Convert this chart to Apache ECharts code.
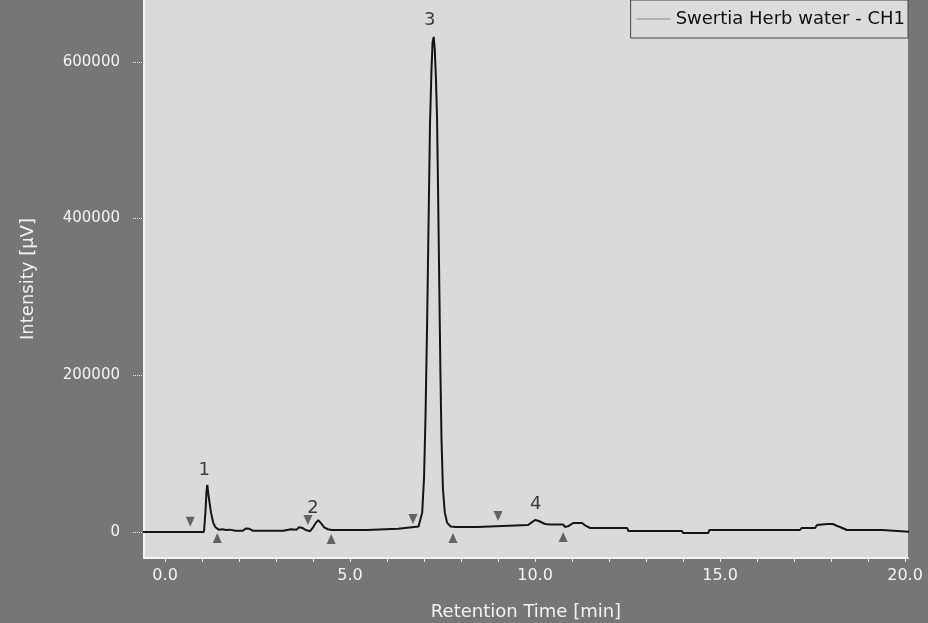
<!DOCTYPE html>
<html>
<head>
<meta charset="utf-8">
<script src="https://cdn.jsdelivr.net/npm/echarts@6/dist/echarts.min.js"></script>
<style>
html,body{margin:0;padding:0;background:#767676;}
#chart{width:928px;height:623px;}
</style>
</head>
<body>
<div id="chart"></div>
<script>
// Retention time [min] and intensity [µV] of the trace
const times = [-0.6, 1.05, 1.09, 1.12, 1.14, 1.17, 1.20, 1.24, 1.30, 1.36, 1.45, 1.55, 1.65, 1.75, 1.90, 2.10, 2.18, 2.28, 2.38,
  3.20, 3.25, 3.40, 3.45, 3.55, 3.62, 3.72, 3.80, 3.92, 4.00, 4.08, 4.14, 4.22, 4.30, 4.40, 4.50, 5.45, 5.50, 6.30, 6.35, 6.85,
  6.89, 6.95, 7.00, 7.04, 7.08, 7.12, 7.16, 7.20, 7.23, 7.26, 7.29, 7.32, 7.35, 7.38, 7.41, 7.44, 7.47, 7.51, 7.56, 7.62, 7.72, 7.85,
  8.43, 8.45, 9.81, 9.90, 10.00, 10.10, 10.27, 10.40, 10.76, 10.81, 10.90, 11.03, 11.27, 11.35, 11.49, 12.49, 12.52,
  13.97, 14.00, 14.68, 14.71, 17.16, 17.20, 17.57, 17.62, 17.90, 18.05, 18.15, 18.24, 18.43, 19.38, 19.42, 20.2];
const intensities = [0, 0, 25000, 52000, 60000, 48000, 38000, 25000, 12000, 6000, 3000, 3500, 2500, 3000, 1500, 1500, 4500, 4000, 1500,
  1500, 3500, 3500, 1500, 3000, 6000, 5000, 2500, 1000, 6000, 12000, 15000, 11000, 6000, 3500, 2500, 2500, 4000, 4000, 6000, 7000,
  9000, 25000, 70000, 150000, 260000, 390000, 520000, 590000, 625000, 632000, 615000, 580000, 530000, 430000, 320000, 210000, 120000, 55000, 25000, 12000, 7000, 6400,
  6400, 8900, 8900, 12000, 15300, 14000, 10200, 9500, 9500, 6400, 7500, 11500, 11500, 8500, 5100, 5100, 1300,
  1300, -1300, -1300, 2500, 2500, 5100, 5100, 8900, 10200, 10200, 8000, 6400, 2500, 2500, 0, 0];

// Integration start (▼) and end (▲) markers
const startMarkTimes = [0.68, 3.86, 6.70, 9.00];
const startMarkValues = [13000, 15300, 16600, 20400];
const endMarkTimes = [1.41, 4.49, 7.78, 10.76];
const endMarkValues = [-7600, -9000, -7600, -6400];

// Peak numbers
const peakNames = ['1', '2', '3', '4'];
const peakLabelTimes = [1.06, 4.0, 7.15, 10.02];
const peakLabelValues = [79000, 30600, 653000, 35700];

// Axis ticks
const xTickValues = [0, 5, 10, 15, 20];
const xMinorTicks = [0, 1, 2, 3, 4, 5, 6, 7, 8, 9, 10, 11, 12, 13, 14, 15, 16, 17, 18, 19, 20];
const yTickValues = [0, 200000, 400000, 600000];
const seriesName = 'Swertia Herb water - CH1';

const FONT = 'DejaVu Sans';
const chart = echarts.init(document.getElementById('chart'), null, {renderer: 'canvas'});

const trace = times.map((t, i) => [t, intensities[i]]);
const starts = startMarkTimes.map((t, i) => [t, startMarkValues[i]]);
const ends = endMarkTimes.map((t, i) => [t, endMarkValues[i]]);
const peaks = peakNames.map((n, i) => ({value: [peakLabelTimes[i], peakLabelValues[i]], name: n}));

chart.setOption({
  backgroundColor: '#767676',
  animation: false,
  grid: {left: 144, right: 20, top: 0, bottom: 65, show: true, backgroundColor: '#dadada', borderWidth: 0,
    containLabel: false, outerBoundsMode: 'none'},
  legend: {
    right: 20, top: 0,
    data: [{name: seriesName, itemStyle: {color: '#888'}}],
    icon: 'rect', itemWidth: 34, itemHeight: 1, itemGap: 4,
    backgroundColor: '#dcdcdc', borderColor: '#444', borderWidth: 1,
    padding: [10, 3, 10, 6],
    textStyle: {fontFamily: FONT, fontSize: 18, color: '#111', padding: [0, 0, 0, 0]}
  },
  xAxis: {
    type: 'value', min: -0.57, max: 20.08,
    name: 'Retention Time [min]', nameLocation: 'middle', nameGap: 45,
    nameTextStyle: {fontFamily: FONT, fontSize: 18, color: '#f2f2f2'},
    axisLine: {show: true, onZero: false, lineStyle: {color: '#f4f4f4', width: 2}},
    axisTick: {show: true, length: 4, lineStyle: {color: '#eeeeee'}, customValues: xMinorTicks},
    axisLabel: {fontFamily: FONT, fontSize: 16, color: '#f4f4f4', margin: 10, customValues: xTickValues,
      formatter: v => v.toFixed(1)},
    splitLine: {show: false}
  },
  yAxis: {
    type: 'value', min: -33200, max: 679000,
    name: 'Intensity [µV]', nameLocation: 'middle', nameGap: 107, nameRotate: 90,
    nameTextStyle: {fontFamily: FONT, fontSize: 18, color: '#f2f2f2'},
    axisLine: {show: true, onZero: false, lineStyle: {color: '#f4f4f4', width: 2}},
    axisTick: {show: true, length: 12, lineStyle: {color: '#eeeeee', type: 'dotted'}, customValues: yTickValues},
    axisLabel: {fontFamily: FONT, fontSize: 15, color: '#f4f4f4', margin: 24, customValues: yTickValues,
      formatter: v => String(v)},
    splitLine: {show: false}
  },
  series: [
    {
      name: seriesName, type: 'line', data: trace, showSymbol: false, symbol: 'none',
      lineStyle: {color: '#151515', width: 2}, itemStyle: {color: '#151515'}, z: 3
    },
    {
      type: 'scatter', data: starts, symbol: 'triangle', symbolRotate: 180, symbolSize: [9, 10],
      itemStyle: {color: '#454545'}, z: 4, silent: true
    },
    {
      type: 'scatter', data: ends, symbol: 'triangle', symbolSize: [9, 10],
      itemStyle: {color: '#454545'}, z: 4, silent: true
    },
    {
      type: 'scatter', data: peaks, symbolSize: 0, z: 5, silent: true,
      label: {show: true, position: 'inside', formatter: p => p.name, fontFamily: FONT, fontSize: 18, color: '#111'}
    }
  ]
});
</script>
</body>
</html>
